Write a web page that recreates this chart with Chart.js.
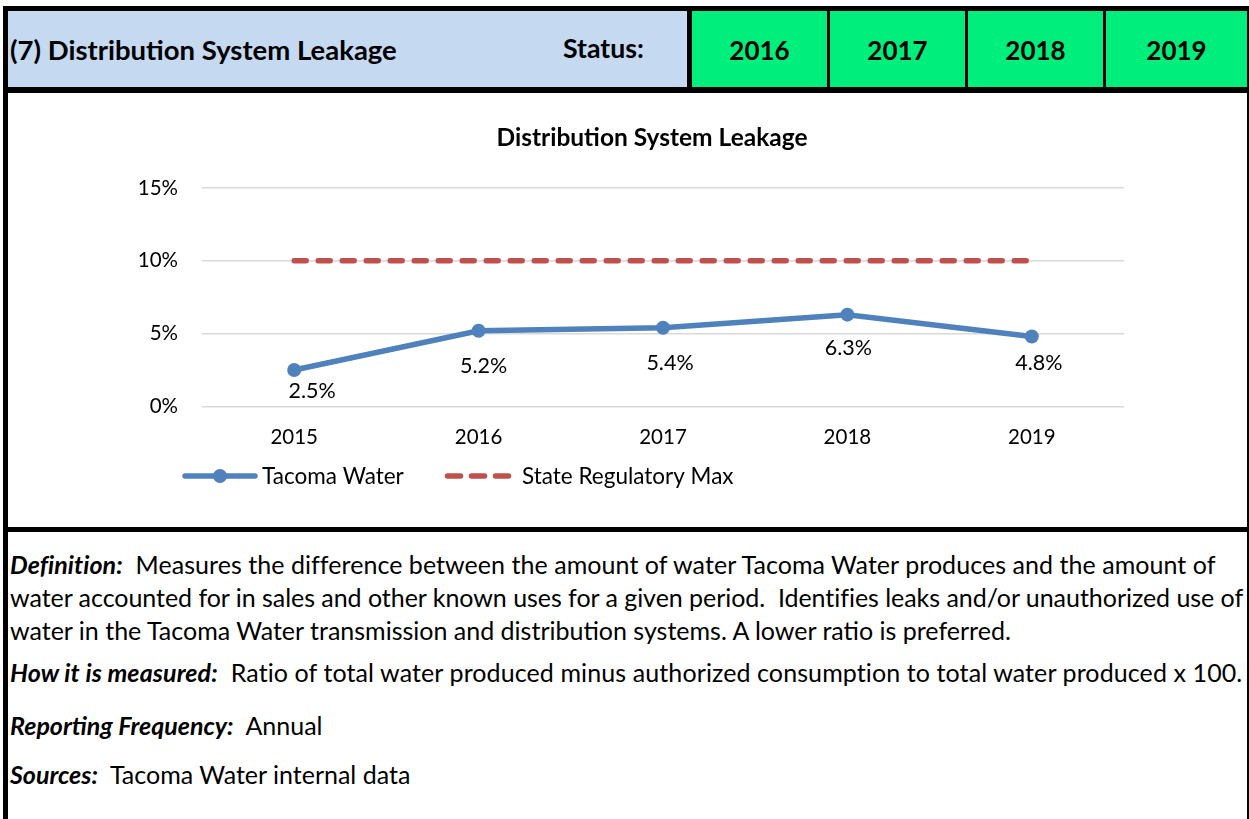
<!DOCTYPE html>
<html>
<head>
<meta charset="utf-8">
<script src="https://cdn.jsdelivr.net/npm/chart.js@4.4.1/dist/chart.umd.min.js"></script>
<style>
  html, body { margin: 0; padding: 0; background: #fff; }
  body { width: 1249px; height: 819px; position: relative; overflow: hidden; font-family: Lato, "Open Sans", sans-serif; color: #000; }
  .abs { position: absolute; }
  .blk { position: absolute; background: #000; }
  .cell { position: absolute; display: flex; align-items: center; justify-content: center; font-weight: bold; font-size: 26px; }
  .line { position: absolute; left: 10px; white-space: nowrap; font-size: 25px; height: 30px; line-height: 30px; }
  .line b { font-style: italic; }
</style>
</head>
<body>
  <!-- header -->
  <div class="abs" style="left:8px;top:11px;width:679px;height:76px;background:#c5d9f1;"></div>
  <div class="abs" style="left:692px;top:11px;width:135px;height:76px;background:#00ee7b;"></div>
  <div class="abs" style="left:830px;top:11px;width:135px;height:76px;background:#00ee7b;"></div>
  <div class="abs" style="left:968px;top:11px;width:135px;height:76px;background:#00ee7b;"></div>
  <div class="abs" style="left:1106px;top:11px;width:141px;height:76px;background:#00ee7b;"></div>
  <div class="cell" style="left:10px;top:11px;height:76px;justify-content:flex-start;font-size:27.5px;">(7) Distribution System Leakage</div>
  <div class="cell" style="left:563px;top:11px;height:74px;justify-content:flex-start;font-size:26.7px;">Status:</div>
  <div class="cell" style="left:692px;top:11px;width:135px;height:78px;">2016</div>
  <div class="cell" style="left:830px;top:11px;width:135px;height:78px;">2017</div>
  <div class="cell" style="left:968px;top:11px;width:135px;height:78px;">2018</div>
  <div class="cell" style="left:1106px;top:11px;width:141px;height:78px;">2019</div>

  <!-- borders -->
  <div class="blk" style="left:3px;top:6px;width:1246px;height:5px;"></div>
  <div class="blk" style="left:3px;top:6px;width:5px;height:813px;"></div>
  <div class="blk" style="left:1247px;top:6px;width:2px;height:813px;"></div>
  <div class="blk" style="left:687px;top:11px;width:5px;height:76px;"></div>
  <div class="blk" style="left:827px;top:11px;width:3px;height:76px;"></div>
  <div class="blk" style="left:965px;top:11px;width:3px;height:76px;"></div>
  <div class="blk" style="left:1103px;top:11px;width:3px;height:76px;"></div>
  <div class="blk" style="left:3px;top:87px;width:1246px;height:6px;"></div>
  <div class="blk" style="left:3px;top:527px;width:1246px;height:5px;"></div>

  <!-- chart -->
  <canvas id="c" width="1239" height="434" style="position:absolute;left:8px;top:93px;"></canvas>

  <!-- text -->
  <div class="line" style="top:549px;letter-spacing:0.05px;"><b>Definition:</b>&nbsp; Measures the difference between the amount of water Tacoma Water produces and the amount of</div>
  <div class="line" style="top:582px;letter-spacing:-0.04px;">water accounted for in sales and other known uses for a given period.&nbsp; Identifies leaks and/or unauthorized use of</div>
  <div class="line" style="top:615px;">water in the Tacoma Water transmission and distribution systems. A lower ratio is preferred.</div>
  <div class="line" style="top:657px;letter-spacing:0.1px;"><b>How it is measured:</b>&nbsp; Ratio of total water produced minus authorized consumption to total water produced x 100.</div>
  <div class="line" style="top:710px;"><b>Reporting Frequency:</b>&nbsp; Annual</div>
  <div class="line" style="top:759px;"><b>Sources:</b>&nbsp; Tacoma Water internal data</div>

<script>
const years = ['2015', '2016', '2017', '2018', '2019'];
const tacomaWater = [2.5, 5.2, 5.4, 6.3, 4.8];
const stateRegulatoryMax = [10, 10, 10, 10, 10];
const yTickValues = [0, 5, 10, 15];
const seriesNames = ['Tacoma Water', 'State Regulatory Max'];
const chartTitle = 'Distribution System Leakage';

const FONT = 'Lato, "Open Sans", sans-serif';
const BLUE = '#4f81bd';
const RED = '#c0504d';

const titlePlugin = {
  id: 'customTitle',
  afterDraw(chart, args, opts) {
    const ctx = chart.ctx;
    ctx.save();
    ctx.font = 'bold 24.5px ' + FONT;
    ctx.fillStyle = '#000';
    ctx.textAlign = 'center';
    ctx.textBaseline = 'middle';
    ctx.fillText(opts.text, opts.x, opts.y);
    ctx.restore();
  }
};

const labelPlugin = {
  id: 'pointLabels',
  afterDatasetsDraw(chart, args, opts) {
    const ctx = chart.ctx;
    const meta = chart.getDatasetMeta(0);
    ctx.save();
    ctx.font = '21.5px ' + FONT;
    ctx.fillStyle = '#000';
    ctx.textAlign = 'center';
    ctx.textBaseline = 'middle';
    meta.data.forEach((pt, i) => {
      const v = chart.data.datasets[0].data[i];
      ctx.fillText(v.toFixed(1) + '%', pt.x + opts.dx[i], pt.y + opts.dy[i]);
    });
    ctx.restore();
  }
};

const legendPlugin = {
  id: 'customLegend',
  afterDraw(chart, args, opts) {
    const ctx = chart.ctx;
    const y = opts.y;
    ctx.save();
    ctx.font = '22.5px ' + FONT;
    ctx.textBaseline = 'middle';
    ctx.textAlign = 'left';
    const ds = chart.data.datasets;
    // Tacoma Water
    ctx.strokeStyle = ds[0].borderColor;
    ctx.lineWidth = 5.5;
    ctx.lineCap = 'round';
    ctx.beginPath();
    ctx.moveTo(opts.x1, y); ctx.lineTo(opts.x1 + 70, y); ctx.stroke();
    ctx.fillStyle = ds[0].borderColor;
    ctx.beginPath(); ctx.arc(opts.x1 + 35, y, 7, 0, Math.PI * 2); ctx.fill();
    ctx.fillStyle = '#000';
    ctx.fillText(ds[0].label, opts.x1 + 77, y + 1);
    // State max
    ctx.strokeStyle = ds[1].borderColor;
    ctx.setLineDash([13, 11]);
    ctx.beginPath();
    ctx.moveTo(opts.x2 + 2.5, y); ctx.lineTo(opts.x2 + 64.5, y); ctx.stroke();
    ctx.setLineDash([]);
    ctx.fillText(ds[1].label, opts.x2 + 77, y + 1);
    ctx.restore();
  }
};

new Chart(document.getElementById('c'), {
  type: 'line',
  data: {
    labels: years,
    datasets: [
      {
        label: seriesNames[0],
        data: tacomaWater,
        borderColor: BLUE,
        backgroundColor: BLUE,
        borderWidth: 5.5,
        pointRadius: 7,
        pointHoverRadius: 7,
        pointBackgroundColor: BLUE,
        pointBorderWidth: 0,
        tension: 0,
        order: 1
      },
      {
        label: seriesNames[1],
        data: stateRegulatoryMax,
        borderColor: RED,
        backgroundColor: RED,
        borderWidth: 5.5,
        borderDash: [12, 12],
        borderCapStyle: 'round',
        pointRadius: 0,
        tension: 0,
        order: 2
      }
    ]
  },
  options: {
    responsive: false,
    animation: false,
    events: [],
    layout: { padding: { left: 100, right: 123, top: 95, bottom: 58 } },
    scales: {
      x: {
        offset: true,
        grid: { display: false, drawTicks: false },
        border: { display: false },
        ticks: { font: { family: FONT, size: 20.5 }, color: '#000', padding: 19 }
      },
      y: {
        min: 0, max: 15,
        afterFit(scale) { scale.width = 94; },
        afterBuildTicks(scale) { scale.ticks = yTickValues.map(v => ({ value: v })); },
        grid: { color: '#d9d9d9', lineWidth: 1.5, drawTicks: false },
        border: { display: false },
        ticks: {
          font: { family: FONT, size: 20.5 }, color: '#000', padding: 24,
          callback: v => v + '%'
        }
      }
    },
    plugins: {
      legend: { display: false },
      tooltip: { enabled: false },
      title: { display: false },
      customTitle: { text: chartTitle, x: 644, y: 45 },
      pointLabels: { dx: [18, 5, 7, 1, 7], dy: [21, 35, 35, 33, 27] },
      customLegend: { x1: 177, x2: 437, y: 383 }
    }
  },
  plugins: [titlePlugin, labelPlugin, legendPlugin]
});
</script>
</body>
</html>
